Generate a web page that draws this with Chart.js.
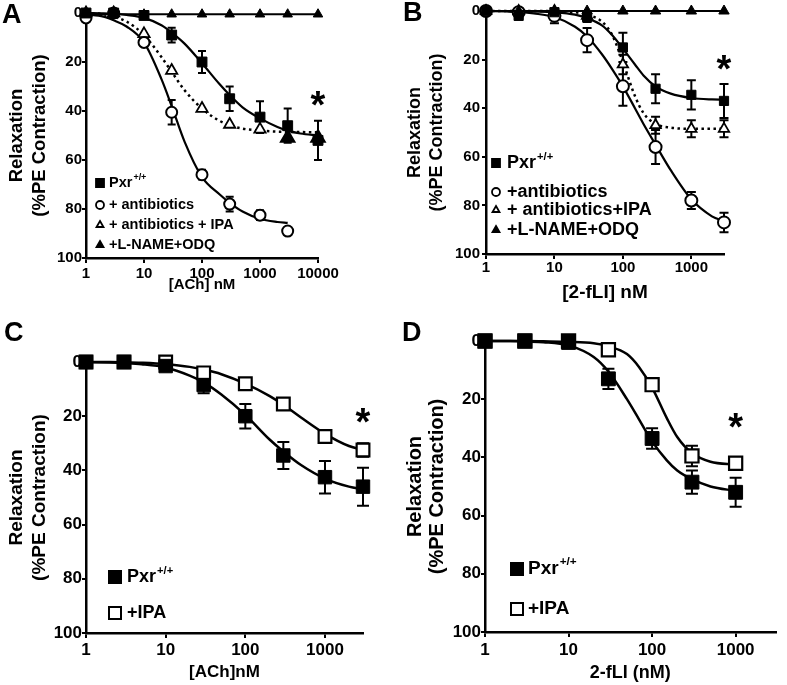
<!DOCTYPE html>
<html>
<head>
<meta charset="utf-8">
<script src="https://cdn.jsdelivr.net/npm/chart.js@4.4.1/dist/chart.umd.min.js"></script>
<style>
  body { margin: 0; background: #fff; width: 787px; height: 685px; position: relative; overflow: hidden; font-family: "Liberation Sans", Arial, sans-serif; }
  canvas { position: absolute; }
  .lbl { position: absolute; font-weight: bold; font-size: 27px; line-height: 27px; color: #000; }
</style>
</head>
<body>
<canvas id="cA" width="390" height="300" style="left:0;top:0"></canvas>
<canvas id="cB" width="397" height="310" style="left:390px;top:0"></canvas>
<canvas id="cC" width="390" height="370" style="left:0;top:315px"></canvas>
<canvas id="cD" width="397" height="370" style="left:390px;top:315px"></canvas>
<div class="lbl" style="left:2px;top:1px">A</div>
<div class="lbl" style="left:403px;top:-1px">B</div>
<div class="lbl" style="left:4px;top:319px">C</div>
<div class="lbl" style="left:402px;top:319px">D</div>
<script>
// ---- data ----
const yTicks = [0, 20, 40, 60, 80, 100];
const yTitle = ['Relaxation', '(%PE Contraction)'];
const pxrSup = '+/+';

// A: [ACh] nM
const aTicks = [1, 10, 100, 1000, 10000];
const aLabels = ['Pxr', '+ antibiotics', '+ antibiotics + IPA', '+L-NAME+ODQ'];
const aDose = [1, 3, 10, 30, 100, 300, 1000, 3000, 10000];
const aPxr = [0, 0, 1, 9, 20, 35, 42.5, 46, 52];
const aPxrErr = [0, 0, 0.5, 3, 4.5, 5, 6.5, 7, 8];
const aAbxDose = [1, 3, 10, 30, 100, 300, 1000, 3000];
const aAbx = [2, 0, 12, 40.5, 66, 78, 82.5, 89];
const aAbxErr = [0, 0, 1, 5, 2, 3, 2, 0];
const aIpa = [0, 0, 8.5, 23.5, 39, 45.5, 47.5, 51, 51];
const aIpaErr = [0, 0, 0, 0, 0, 0, 0, 0, 0];
const aName = [0.5, 0.5, 0.5, 0.5, 0.5, 0.5, 0.5, 0.5, 0.5];
const aFitDose = [1, 2, 3, 5, 10, 20, 30, 50, 100, 200, 300, 500, 1000, 2000, 3000, 5000, 10000];
const aPxrFit = [0, 0.1, 0.3, 0.8, 2, 5, 8, 12.5, 20.5, 29, 33.5, 38.5, 43, 46.5, 48, 49.2, 50];
const aIpaFit = [0, 0.5, 1.5, 3.5, 9, 18, 24, 31.5, 39, 44, 45.8, 47.2, 48, 48.4, 48.5, 48.6, 48.7];
const aAbxFitDose = [1, 2, 3, 5, 10, 20, 30, 50, 100, 200, 300, 500, 1000, 2000, 3000];
const aAbxFit = [0.5, 1.5, 3, 5.5, 12, 27, 38, 52.5, 67, 74, 77.5, 81, 84, 85.3, 85.7];

// B: [2-fLI] nM
const bTicks = [1, 10, 100, 1000];
const bLabels = ['Pxr', '+antibiotics', '+ antibiotics+IPA', '+L-NAME+ODQ'];
const bDose = [1, 3, 10, 30, 100, 300, 1000, 3000];
const bPxr = [0, 2, 0.5, 2.5, 15, 32, 34.5, 37];
const bPxrErr = [0, 1, 1, 2, 6, 6, 6, 7];
const bAbx = [0, 0.5, 2, 12, 31, 56, 78, 87];
const bAbxErr = [0, 0, 3, 5, 8, 7, 3.5, 4];
const bIpa = [0, 0, 0, 2, 22, 47, 48.5, 48.5];
const bIpaErr = [0, 0, 0, 1, 4, 3.5, 3.5, 3.5];
const bName = [0, 0, 0, 0, 0, 0, 0, 0];
const bFitDose = [1, 2, 3, 5, 10, 20, 30, 50, 70, 100, 150, 200, 300, 500, 1000, 2000, 3000];
const bPxrFit = [0, 0, 0.1, 0.2, 0.5, 1.5, 3, 6, 10, 15.5, 22, 26.5, 31, 34, 35.8, 36.4, 36.5];
const bAbxFit = [0, 0.2, 0.4, 1, 2.5, 6.5, 10.5, 18, 24, 31, 40, 46.5, 55, 65.5, 77.5, 84.5, 86.5];
const bIpaFit = [0, 0, 0, 0, 0, 0.5, 1.5, 4.5, 10, 21, 35, 42, 46.5, 48, 48.5, 48.5, 48.5];

// C: [ACh]nM
const cTicks = [1, 10, 100, 1000];
const cdLabels = ['Pxr', '+IPA'];
const cDose = [1, 3, 10, 30, 100, 300, 1000, 3000];
const cPxr = [0, 0, 1.5, 8.5, 20, 34.5, 42.5, 46];
const cPxrErr = [0, 0, 0.5, 3, 4.5, 5, 6, 7];
const cIpa = [0, 0, 0, 4, 8, 15.5, 27.5, 32.5];
const cIpaErr = [0, 0, 0, 1, 1, 1, 2, 2.5];
const cFitDose = [1, 2, 3, 5, 10, 20, 30, 50, 100, 200, 300, 500, 1000, 2000, 3000];
const cPxrFit = [0, 0.2, 0.4, 0.8, 2, 5, 7.5, 12, 19.5, 28.5, 33, 38, 43, 46, 47];
const cIpaFit = [0, 0, 0.1, 0.3, 0.8, 1.8, 2.8, 4.5, 8, 12.5, 15.8, 20.5, 26.5, 31, 32.5];

// D: 2-fLI (nM)
const dTicks = [1, 10, 100, 1000];
const dDose = [1, 3, 10, 30, 100, 300, 1000];
const dPxr = [0, 0, 0.5, 13, 33.5, 48.5, 52];
const dPxrErr = [0, 0, 0.5, 3.5, 3.5, 4, 5];
const dIpa = [0, 0, 0, 3, 15, 39.5, 42];
const dIpaErr = [0, 0, 0, 1, 1, 3.5, 1.5];
const dFitDose = [1, 2, 3, 5, 10, 20, 30, 50, 70, 100, 150, 200, 300, 500, 1000];
const dPxrFit = [0, 0, 0.2, 0.4, 1.5, 5.5, 10.5, 20, 27, 34.5, 41, 44.5, 47.5, 50, 51.5];
const dIpaFit = [0, 0, 0, 0.1, 0.3, 0.8, 1.8, 4.5, 9, 16, 26.5, 33, 38.5, 41.5, 42.5];

// ---- helpers ----
const fam = '"Liberation Sans", Arial, sans-serif';
Chart.defaults.font.family = fam;
Chart.defaults.color = '#000';

function pts(xs, ys) {
    return xs.map((x, i) => ({ x: x, y: ys[i] }));
}

function curve(xs, ys, w, dash) {
    return {
        data: pts(xs, ys), showLine: true, borderColor: '#000', borderWidth: w,
        borderDash: dash || [], pointRadius: 0, cubicInterpolationMode: 'monotone',
        order: 2, clip: false
    };
}

function marks(xs, ys, errs, style, fill, r, bw) {
    return {
        data: pts(xs, ys), errs: errs, showLine: false, pointStyle: style,
        pointRadius: r, pointBackgroundColor: fill, pointBorderColor: '#000',
        pointBorderWidth: bw, order: 0, clip: false
    };
}

function drawMarker(ctx, shape, fill, x, y, r, bw) {
    ctx.beginPath();
    if (shape === 'rect') {
        ctx.rect(x - r, y - r, 2 * r, 2 * r);
    } else if (shape === 'circle') {
        ctx.arc(x, y, r, 0, Math.PI * 2);
    } else {
        ctx.moveTo(x, y - r);
        ctx.lineTo(x + r * 0.87, y + r * 0.5);
        ctx.lineTo(x - r * 0.87, y + r * 0.5);
        ctx.closePath();
    }
    ctx.fillStyle = fill;
    ctx.fill();
    ctx.lineWidth = bw;
    ctx.strokeStyle = '#000';
    ctx.stroke();
}

const errorBars = {
    id: 'errorBars',
    beforeDatasetsDraw(chart) {
        const { ctx, scales: { x, y } } = chart;
        const cap = chart.$cap;
        ctx.save();
        ctx.strokeStyle = '#000';
        ctx.lineWidth = 2;
        chart.data.datasets.forEach(ds => {
            if (!ds.errs) return;
            ds.data.forEach((p, i) => {
                const e = ds.errs[i];
                if (!e) return;
                const px = x.getPixelForValue(p.x);
                const y1 = y.getPixelForValue(p.y - e);
                const y2 = y.getPixelForValue(p.y + e);
                ctx.beginPath();
                ctx.moveTo(px, y1); ctx.lineTo(px, y2);
                ctx.moveTo(px - cap / 2, y1); ctx.lineTo(px + cap / 2, y1);
                ctx.moveTo(px - cap / 2, y2); ctx.lineTo(px + cap / 2, y2);
                ctx.stroke();
            });
        });
        ctx.restore();
    }
};

function legendPlugin(lg) {
    return {
        id: 'panelLegend',
        afterDraw(chart) {
            const ctx = chart.ctx;
            ctx.save();
            lg.items.forEach((it, i) => {
                const y = lg.rows[i];
                drawMarker(ctx, it.shape, it.fill, lg.mx, y, lg.ms, lg.bw);
                ctx.fillStyle = '#000';
                ctx.textAlign = 'left';
                ctx.textBaseline = 'middle';
                ctx.font = 'bold ' + lg.size + 'px ' + fam;
                ctx.fillText(it.text, lg.tx, y);
                if (it.sup) {
                    const w = ctx.measureText(it.text).width;
                    ctx.font = 'bold ' + (lg.size * 0.62) + 'px ' + fam;
                    ctx.fillText(it.sup, lg.tx + w + 1, y - lg.size * 0.36);
                }
            });
            ctx.restore();
        }
    };
}

function starPlugin(st) {
    return {
        id: 'star',
        afterDraw(chart) {
            const { ctx, scales: { x, y } } = chart;
            ctx.save();
            ctx.fillStyle = '#000';
            ctx.textAlign = 'center';
            ctx.textBaseline = 'alphabetic';
            ctx.font = 'bold ' + st.size + 'px ' + fam;
            ctx.fillText('*', x.getPixelForValue(st.x), y.getPixelForValue(st.y) + st.size * 0.57);
            ctx.restore();
        }
    };
}

function criarPainel(id, s, datasets, lg, st) {
    const chart = new Chart(document.getElementById(id), {
        type: 'scatter',
        data: { datasets: datasets },
        options: {
            responsive: false,
            animation: false,
            devicePixelRatio: 1,
            layout: { padding: s.pad },
            plugins: { legend: { display: false }, tooltip: { enabled: false } },
            scales: {
                x: {
                    type: 'logarithmic', min: 1, max: s.xMax,
                    afterBuildTicks: sc => { sc.ticks = s.xTicks.map(v => ({ value: v })); },
                    afterFit: sc => { sc.height = s.xH; },
                    ticks: {
                        callback: v => String(v), autoSkip: false, maxRotation: 0,
                        font: { size: s.tick, weight: 'bold' }, padding: s.xTickPad, color: '#000'
                    },
                    grid: { drawOnChartArea: false, color: '#000', lineWidth: 2, tickLength: 5 },
                    border: { color: '#000', width: 2.5 },
                    title: {
                        display: true, text: s.xTitle, color: '#000',
                        font: { size: s.xFont, weight: 'bold' }, padding: { top: 0, bottom: s.xTitlePad }
                    }
                },
                y: {
                    min: 0, max: 100, reverse: true,
                    afterBuildTicks: sc => { sc.ticks = yTicks.map(v => ({ value: v })); },
                    afterFit: sc => { sc.width = s.yW; },
                    ticks: { font: { size: s.tick, weight: 'bold' }, padding: s.yTickPad, color: '#000' },
                    grid: { drawOnChartArea: false, color: '#000', lineWidth: 2, tickLength: 4 },
                    border: { color: '#000', width: 2.5 },
                    title: {
                        display: true, text: yTitle, color: '#000',
                        font: { size: s.yFont, weight: 'bold', lineHeight: s.yLh },
                        padding: { top: s.yTitlePad, bottom: 0 }
                    }
                }
            }
        },
        plugins: [errorBars, legendPlugin(lg), starPlugin(st)]
    });
    chart.$cap = s.cap;
    chart.update('none');
    return chart;
}

// ---- panel A ----
criarPainel('cA', {
    pad: { top: 13, left: 0, right: 72, bottom: 0 }, xMax: 10000, xTicks: aTicks,
    xH: 42, yW: 86, tick: 15, xTickPad: 2, yTickPad: 0, xTitle: '[ACh] nM', xFont: 15, xTitlePad: 6,
    yFont: 18.5, yLh: '23px', yTitlePad: 5.5, cap: 8
}, [
    curve(aFitDose, aPxrFit, 2.2),
    curve(aAbxFitDose, aAbxFit, 2.2),
    curve(aFitDose, aIpaFit, 2.5, [2.5, 3.5]),
    Object.assign(marks(aDose, aName, null, 'triangle', '#000', 5.5, 1), { showLine: true, borderColor: '#000', borderWidth: 2 }),
    marks(aDose, aPxr, aPxrErr, 'rect', '#000', 7, 1),
    marks(aAbxDose, aAbx, aAbxErr, 'circle', '#fff', 5.5, 2),
    marks(aDose, aIpa, aIpaErr, 'triangle',
        ['#fff', '#fff', '#fff', '#fff', '#fff', '#fff', '#fff', '#000', '#000'],
        [6.5, 6.5, 6.5, 6.5, 6.5, 6.5, 6.5, 8, 8], 1.8)
], {
    mx: 100, tx: 109, rows: [183, 205, 225, 245], size: 14.5, ms: 4, bw: 1.8,
    items: [
        { shape: 'rect', fill: '#000', text: aLabels[0], sup: pxrSup },
        { shape: 'circle', fill: '#fff', text: aLabels[1] },
        { shape: 'tri', fill: '#fff', text: aLabels[2] },
        { shape: 'tri', fill: '#000', text: aLabels[3] }
    ]
}, { x: 10000, y: 34, size: 38 });

// ---- panel B ----
criarPainel('cB', {
    pad: { top: 10, left: 0, right: 63, bottom: 0 }, xMax: 3000, xTicks: bTicks,
    xH: 56, yW: 96, tick: 15, xTickPad: 0, yTickPad: 2, xTitle: '[2-fLI] nM', xFont: 19, xTitlePad: 5.6,
    yFont: 18, yLh: '22px', yTitlePad: 14, cap: 9
}, [
    curve(bFitDose, bPxrFit, 2.2),
    curve(bFitDose, bAbxFit, 2.2),
    curve(bFitDose, bIpaFit, 2.5, [2.5, 3.5]),
    Object.assign(marks(bDose, bName, null, 'triangle', '#000', 6, 1), { showLine: true, borderColor: '#000', borderWidth: 2 }),
    marks(bDose, bPxr, bPxrErr, 'rect', '#000', 6.5, 1),
    marks(bDose, bAbx, bAbxErr, 'circle', '#fff', 6, 2),
    marks(bDose, bIpa, bIpaErr, 'triangle', '#fff', 6, 1.8)
], {
    mx: 106, tx: 117, rows: [163, 192, 210, 230], size: 18, ms: 4, bw: 1.8,
    items: [
        { shape: 'rect', fill: '#000', text: bLabels[0], sup: pxrSup },
        { shape: 'circle', fill: '#fff', text: bLabels[1] },
        { shape: 'tri', fill: '#fff', text: bLabels[2] },
        { shape: 'tri', fill: '#000', text: bLabels[3] }
    ]
}, { x: 3000, y: 20.5, size: 38 });

// ---- panel C ----
criarPainel('cC', {
    pad: { top: 47, left: 0, right: 27, bottom: 0 }, xMax: 3000, xTicks: cTicks,
    xH: 52, yW: 86, tick: 17, xTickPad: 2, yTickPad: 0, xTitle: '[ACh]nM', xFont: 17, xTitlePad: 2.8,
    yFont: 19, yLh: '23px', yTitlePad: 5.5, cap: 12
}, [
    curve(cFitDose, cPxrFit, 2.5),
    curve(cFitDose, cIpaFit, 2.5),
    marks(cDose, cPxr, cPxrErr, 'rect', '#000', 9.5, 1),
    marks(cDose, cIpa, cIpaErr, 'rect', '#fff', 9, 2.2)
], {
    mx: 115, tx: 127, rows: [262, 298], size: 18, ms: 6, bw: 2,
    items: [
        { shape: 'rect', fill: '#000', text: cdLabels[0], sup: pxrSup },
        { shape: 'rect', fill: '#fff', text: cdLabels[1] }
    ]
}, { x: 3000, y: 18.8, size: 38 });

// ---- panel D ----
criarPainel('cD', {
    pad: { top: 26, left: 0, right: 2, bottom: 0 }, xMax: 3000, xTicks: dTicks,
    xH: 53, yW: 95, tick: 17, xTickPad: 3, yTickPad: 0, xTitle: '2-fLI (nM)', xFont: 18, xTitlePad: 1.2,
    yFont: 20, yLh: '22px', yTitlePad: 14, cap: 12
}, [
    curve(dFitDose, dPxrFit, 2.5),
    curve(dFitDose, dIpaFit, 2.5),
    marks(dDose, dPxr, dPxrErr, 'rect', '#000', 9.8, 1),
    marks(dDose, dIpa, dIpaErr, 'rect', '#fff', 9.3, 2.2)
], {
    mx: 127, tx: 138, rows: [254, 294], size: 19, ms: 6, bw: 2,
    items: [
        { shape: 'rect', fill: '#000', text: cdLabels[0], sup: pxrSup },
        { shape: 'rect', fill: '#fff', text: cdLabels[1] }
    ]
}, { x: 1000, y: 26.7, size: 38 });
</script>
</body>
</html>
